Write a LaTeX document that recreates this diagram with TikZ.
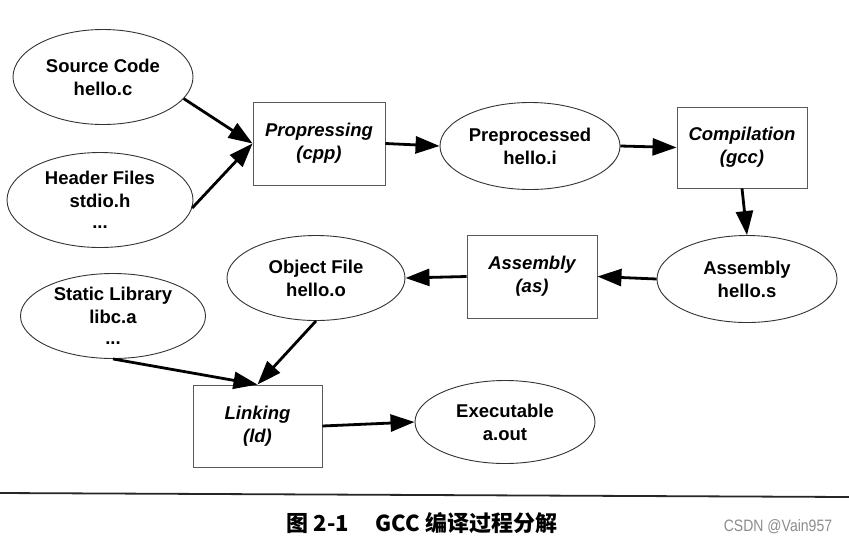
\documentclass[tikz,border=0pt]{standalone}
\usepackage{fontspec}
\setmainfont{Liberation Sans}
\newfontfamily\cjkfont{Noto Sans CJK SC}
\usetikzlibrary{shapes.geometric,arrows.meta}
\tikzset{
  ell/.style={ellipse, draw=black!80, line width=0.9pt, align=center, inner sep=0pt,
    font=\fontsize{18.5}{23}\selectfont\bfseries},
  proc/.style={rectangle, draw=black!65, line width=0.9pt, align=center, inner sep=0pt,
    font=\fontsize{18.5}{23}\selectfont\bfseries\itshape},
  arr/.style={-{Triangle[length=24pt,width=17pt]}, line width=2.8pt, black},
}
\begin{document}
\begin{tikzpicture}[x=1pt,y=-1pt]
\useasboundingbox (0,0) rectangle (849,550);
% nodes
\node[ell, minimum width=180pt, minimum height=95pt] (src) at (103,77) {Source Code\\hello.c};
\node[ell, minimum width=186pt, minimum height=95pt] (hdr) at (100,200) {Header Files\\stdio.h\\[-2pt]...};
\node[proc, minimum width=132pt, minimum height=83pt] (cpp) at (319,143.5) {Propressing\\(cpp)};
\node[ell, minimum width=180pt, minimum height=87pt] (pre) at (530,146) {Preprocessed\\hello.i};
\node[proc, minimum width=130pt, minimum height=81pt] (gcc) at (742,147.5) {Compilation\\(gcc)};
\node[ell, minimum width=180pt, minimum height=87pt] (hs) at (747,279) {Assembly\\hello.s};
\node[proc, minimum width=130pt, minimum height=83pt] (as) at (532,276.5) {Assembly\\(as)};
\node[ell, minimum width=178pt, minimum height=85pt] (obj) at (316,278) {Object File\\hello.o};
\node[ell, minimum width=185pt, minimum height=85pt] (lib) at (113,316) {Static Library\\libc.a\\[-2pt]...};
\node[proc, minimum width=129pt, minimum height=82pt] (ld) at (257.5,426) {Linking\\(ld)};
\node[ell, minimum width=180pt, minimum height=83pt] (exe) at (505,422) {Executable\\a.out};
% connectors
\draw[arr] (src.-15) -- (cpp.west);
\draw[arr] (hdr.-5) -- (cpp.west);
\draw[arr] (cpp.east) -- (pre.west);
\draw[arr] (pre.east) -- (gcc.west);
\draw[arr] (gcc.south) -- (hs.north);
\draw[arr] (hs.west) -- (as.east);
\draw[arr] (as.west) -- (obj.east);
\draw[arr] (obj.south) -- (ld.north);
\draw[arr] (lib.south) -- (ld.north);
\draw[arr] (ld.east) -- (exe.west);
% caption
\draw[line width=1.8pt, black!85] (0,493) -- (849,497);
\node[font=\cjkfont\fontsize{22}{26}\selectfont\bfseries] (cap) at (422,523) {图 2-1\hspace{1.2em}GCC 编译过程分解};
\node[font=\fontsize{16.5}{20}\selectfont, text=black!45, xscale=0.85] (wm) at (778,527) {CSDN @Vain957};
\end{tikzpicture}
\end{document}
